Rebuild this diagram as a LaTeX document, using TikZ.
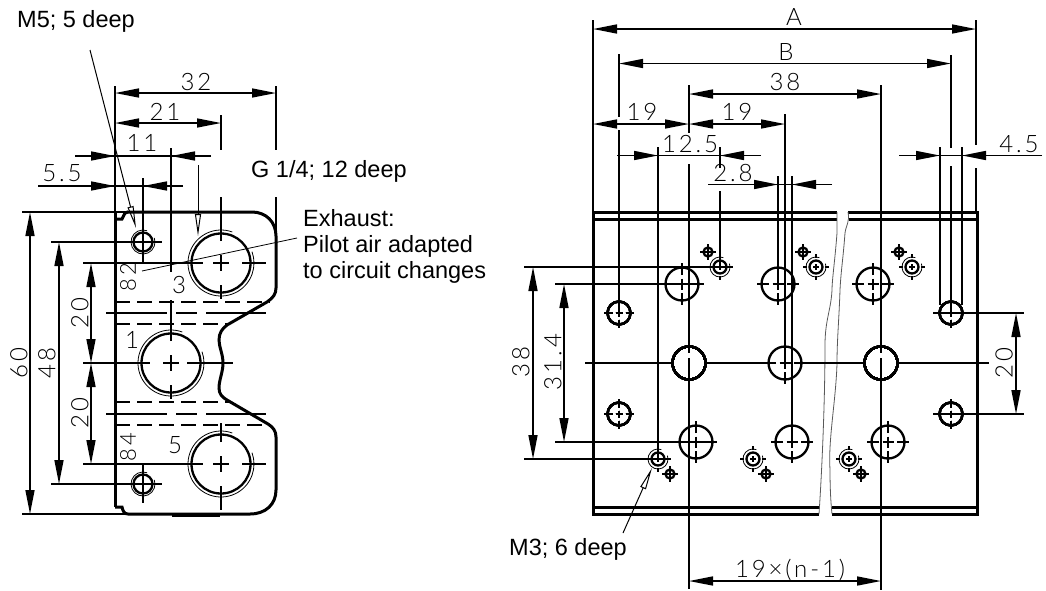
\documentclass[tikz,border=0pt]{standalone}
\usepackage{fontspec}
\usetikzlibrary{arrows.meta}
\setmainfont{Liberation Sans}
\newfontfamily\dimfont[LetterSpace=12]{Lato Light}
\tikzset{
  x=1pt,y=-1pt,
  ln/.style={line width=1.6pt,black},
  thk/.style={line width=3pt,black},
  circ/.style={line width=2.3pt,black},
  thn/.style={line width=.8pt,black},
  brk/.style={line width=.8pt,black!65},
  dsh/.style={line width=1.6pt,dash pattern=on 15pt off 7pt},
  dd/.style={ln,{Triangle[length=24pt,width=9pt]}-{Triangle[length=24pt,width=9pt]}},
  dr/.style={ln,-{Triangle[length=24pt,width=9pt]}},
  ldr/.style={line width=1pt,black,-{Triangle[open,length=22pt,width=6pt]}},
  lbl/.style={font=\fontsize{23.5}{26}\selectfont,align=left,anchor=west,inner sep=0pt},
  dl/.style={font=\dimfont\fontsize{24}{26}\selectfont,inner sep=0pt},
  dls/.style={font=\dimfont\fontsize{22}{26}\selectfont,inner sep=0pt},
}
% x y r  stub-in stub-out cross
\newcommand\hole[6]{\begin{scope}[shift={(#1,#2)}]
  \draw[circ] (0,0) circle[radius=#3];
  \draw[ln] (-#6,0)--(#6,0) (0,-#6)--(0,#6)
    (#4,0)--(#5,0) (-#4,0)--(-#5,0) (0,#4)--(0,#5) (0,-#4)--(0,-#5);
\end{scope}}
% thread ring: x y r
\newcommand\ring[3]{\begin{scope}[shift={(#1,#2)}]
  \draw[thn] (-70:#3) arc[start angle=-70,end angle=-380,radius=#3];
\end{scope}}
\newcommand\diam[2]{\begin{scope}[shift={(#1,#2)}]
  \draw[circ] (0,0) circle[radius=4.5];
  \draw[ln] (-8,0)--(8,0) (0,-8)--(0,8);
\end{scope}}
\newcommand\mthree[4]{\hole{#1}{#2}{6.5}{9}{13}{3}\ring{#1}{#2}{10}\diam{#3}{#4}}
\begin{document}
\begin{tikzpicture}
\useasboundingbox (0,0) rectangle (1046,590);
% ===== LEFT VIEW =====
\draw[thk] (115,507)--(122,507) .. controls (123,511) and (124,514) .. (128,514) -- (250,514)
  .. controls (266,514) and (276,504) .. (276,490) -- (276,437)
  .. controls (276,431) and (273,427) .. (268,424) -- (227,400)
  .. controls (222,397) and (219,394) .. (219,388) .. controls (219,380) and (223,372) .. (223,363)
  .. controls (223,354) and (219,347) .. (219,340) .. controls (219,333) and (222,329) .. (227,325)
  -- (267,302) .. controls (273,298) and (276,294) .. (276,288) -- (276,236)
  .. controls (276,222) and (266,212) .. (252,212) -- (127,212);
\draw[thk] (115,212)--(115,507);
\draw[thk] (115,219)--(122,219) .. controls (124,216) and (124,212) .. (128,212);
\draw[thk,line width=3.5pt] (172,515.5)--(220,515.5);
\foreach \y/\a/\b in {302/115/270,324/115/230,402/115/232,425/115/268}
  \draw[dsh] (\a,\y)--(\b,\y);
\draw[ln] (106,313)--(167,313) (176,313)--(197,313) (206,313)--(266,313);
\draw[ln] (106,414)--(167,414) (176,414)--(197,414) (206,414)--(266,414);
% large ports
\hole{221}{263}{29.5}{22}{36}{8}\ring{221}{263}{33}
\hole{171}{363}{29.5}{22}{36}{8}\ring{171}{363}{33}
\hole{221}{464}{29.5}{22}{36}{8}\ring{221}{464}{33}
\draw[ln] (83,263)--(203,263) (242,263)--(266,263) (221,197)--(221,241);
\draw[ln] (83,363)--(150,363) (187,363)--(233,363) (171,148)--(171,272) (171,300)--(171,341);
\draw[ln] (83,464)--(203,464) (242,464)--(266,464) (221,423)--(221,442) (221,486)--(221,510);
% M5 ports
\hole{143}{242}{9.5}{6}{10}{4}\ring{143}{242}{12}
\hole{143}{484}{9.5}{6}{10}{4}\ring{143}{484}{12}
\draw[ln] (51,242)--(162,242) (143,178)--(143,263);
\draw[ln] (51,484)--(162,484) (143,465)--(143,503);
% extension lines
\draw[ln] (115,86)--(115,212);
\draw[ln] (276,86)--(276,150) (276,197)--(276,232);
\draw[ln] (221,115)--(221,150);
\draw[ln] (22,212)--(127,212) (22,514)--(128,514);
% dimensions
\draw[dd] (115,93)--(276,93);
\draw[dd] (115,123)--(221,123);
\draw[ln] (75,156)--(211,156);
\draw[dr] (75,156)--(115,156);
\draw[dr] (211,156)--(171,156);
\draw[ln] (38,186)--(183,186);
\draw[dr] (38,186)--(115,186);
\draw[dr] (183,186)--(143,186);
\draw[dd] (30,212)--(30,514);
\draw[dd] (59,242)--(59,484);
\draw[dd] (91,263)--(91,363);
\draw[dd] (91,363)--(91,464);
% dimension texts left
\node[dl] (d32) at (196,82) {32};
\node[dl] (d21) at (165,112) {21};
\node[dl] (d11) at (142,143) {11};
\node[dl] (d55) at (62,173) {5.5};
\node[dl,rotate=90] (d60) at (19,363) {60};
\node[dl,rotate=90] (d48) at (47,363) {48};
\node[dl,rotate=90] (d20a) at (80,313) {20};
\node[dl,rotate=90] (d20b) at (80,413) {20};
\node[dls,rotate=90] (d82) at (128,277) {82};
\node[dls,rotate=90] (d84) at (128,447) {84};
\node[dl] (p3) at (179,285) {3};
\node[dl] (p1) at (132,340) {1};
\node[dl] (p5) at (175,445) {5};
% labels left
\node[lbl] (m5) at (17,21) {M5; 5 deep};
\node[lbl] (g14) at (251,171) {G 1/4; 12 deep};
\node[lbl,anchor=north west] (exh) at (303,209) {Exhaust:\\Pilot air adapted\\to circuit changes};
\coordinate (m5a) at (90,50);
\coordinate (m5b) at (136,228);
\coordinate (ga) at (198,165);
\coordinate (gb) at (198,236);
\coordinate (ea) at (297,238);
\coordinate (eb) at (142,271);
\draw[ldr] (m5a)--(m5b);
\draw[ldr] (ga)--(gb);
\draw[thn] (ea)--(eb);
% ===== RIGHT VIEW =====
\draw[thk] (837,212)--(593,212)--(593,514)--(819,514) (819,507)--(593,507);
\draw[thk] (593,219)--(837,219);
\draw[thk] (848,212)--(977,212)--(977,514)--(832,514) (832,507)--(977,507);
\draw[thk] (849,219)--(977,219);
\draw[brk] (837,212)--(837,233) .. controls (835,260) and (832,280) .. (832,290)
  .. controls (831,310) and (825,320) .. (825,345) .. controls (825,400) and (822,470) .. (819,514);
\draw[brk] (848,212) .. controls (850,222) and (846,225) .. (845,233) .. controls (843,260) and (841,270) .. (840,290)
  .. controls (839,320) and (837,340) .. (837,363) .. controls (836,400) and (828,440) .. (830,470)
  .. controls (830,490) and (831,505) .. (832,514);
% holes
\foreach \x/\y in {682/284,778/284,873/284,696/442,792/442,888/442}
  \hole{\x}{\y}{16.5}{9}{21}{5.5}
\foreach \x/\y in {619/313,951/313,619/414,951/414}
  \hole{\x}{\y}{11.5}{6.5}{15}{3.5}
\foreach \x in {689,881}
  \draw[circ] (\x,363) circle[radius=16.5];
\hole{785}{363}{16.5}{9}{21}{5.5}
\mthree{720}{267}{708}{252}
\mthree{816}{267}{803}{252}
\mthree{912}{267}{899}{252}
\mthree{658}{459}{670}{474}
\mthree{753}{459}{766}{474}
\mthree{849}{459}{861}{474}
% extension lines
\draw[ln] (593,20)--(593,212);
\draw[ln] (976,20)--(976,145) (976,168)--(976,212);
\draw[ln] (619,54)--(619,117) (619,130)--(619,313);
\draw[ln] (951,55)--(951,148) (951,166)--(951,313);
\draw[ln] (689,85)--(689,133) (689,164)--(689,353) (689,358)--(689,589);
\draw[ln] (881,85)--(881,353) (881,358)--(881,590);
\draw[ln] (785,114)--(785,363);
\draw[ln] (658,147)--(658,459);
\draw[ln] (720,147)--(720,168) (720,191)--(720,267);
\draw[ln] (778,176)--(778,284) (792,176)--(792,442);
\draw[ln] (940,147)--(940,305) (962,147)--(962,305);
\draw[ln] (524,267)--(731,267) (524,459)--(669,459);
\draw[ln] (555,284)--(704,284) (555,442)--(716,442);
\draw[ln] (585,363)--(672,363) (706,363)--(768,363) (806,363)--(864,363) (898,363)--(989,363);
\draw[ln] (933,313)--(1024,313) (933,414)--(1024,414);
% dimensions
\draw[dd] (593,29)--(976,29);
\draw[dd] (619,63.5)--(951,63.5);
\draw[dd] (689,94)--(881,94);
\draw[dd] (593,124)--(689,124);
\draw[dd] (689,124)--(785,124);
\draw[ln] (617,155.5)--(761,155.5);
\draw[dr] (617,155.5)--(658,155.5);
\draw[dr] (761,155.5)--(720,155.5);
\draw[ln] (708,184.5)--(832,184.5);
\draw[dr] (708,184.5)--(778,184.5);
\draw[dr] (832,184.5)--(792,184.5);
\draw[ln] (899,155.5)--(1042,155.5);
\draw[dr] (899,155.5)--(940,155.5);
\draw[dr] (1042,155.5)--(962,155.5);
\draw[dd] (533,267)--(533,459);
\draw[dd] (564,284)--(564,442);
\draw[dd] (1016,313)--(1016,414);
\draw[dd] (689,581)--(881,581);
% dimension texts right
\node[dl] (dA) at (794,17) {A};
\node[dl] (dB) at (786,52) {B};
\node[dl] (d38) at (785,82) {38};
\node[dl] (d19a) at (642,112) {19};
\node[dl] (d19b) at (737,112) {19};
\node[dl] (d125) at (690,144) {12.5};
\node[dl] (d28) at (733,173) {2.8};
\node[dl] (d45) at (1019,144) {4.5};
\node[dl,rotate=90] (d38v) at (521,362) {38};
\node[dl,rotate=90] (d314) at (553,362) {31.4};
\node[dl,rotate=90] (d20r) at (1004,363) {20};
\node[dl] (dn) at (790,570) {19×(n-1)};
% M3 label
\node[lbl] (m3) at (509,549) {M3; 6 deep};
\coordinate (m3a) at (623,533);
\coordinate (m3b) at (652,468);
\draw[ldr] (m3a)--(m3b);
\end{tikzpicture}
\end{document}
